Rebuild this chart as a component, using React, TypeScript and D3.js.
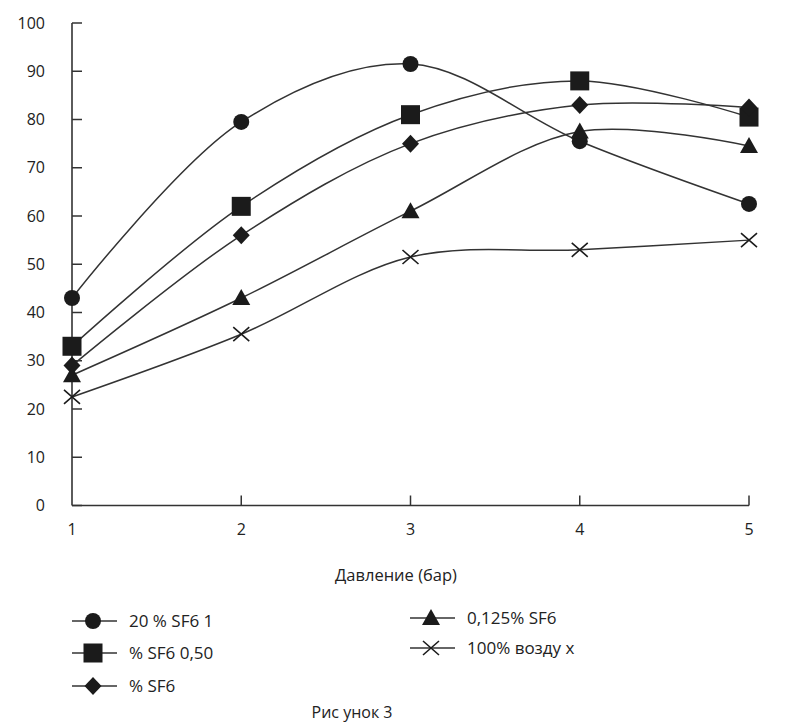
import React from "react";
import * as d3 from "d3";

const pressures = [1, 2, 3, 4, 5];
const yTicks = [0, 10, 20, 30, 40, 50, 60, 70, 80, 90, 100];
const sf6_1 = [43, 79.5, 91.5, 75.5, 62.5];
const sf6_050 = [33, 62, 81, 88, 80.5];
const sf6_025 = [29, 56, 75, 83, 82.5];
const sf6_0125 = [27, 43, 61, 77.5, 74.5];
const air = [22.5, 35.5, 51.5, 53, 55];

const seriesNames = ["20 % SF6 1", "% SF6 0,50", "% SF6", "0,125% SF6", "100% возду х"];
const seriesMarkers = ["circle", "square", "diamond", "triangle", "cross"];
const seriesValues = [sf6_1, sf6_050, sf6_025, sf6_0125, air];

const xTitle = "Давление (бар)";
const caption = "Рис унок 3";

const FONT = "'Open Sans', sans-serif";
const INK = "#1b1b1b";
const LINE = "#333";

function Marker({ type, x, y }: { type: string; x: number; y: number }) {
  if (type === "circle") return <circle cx={x} cy={y} r={8} fill={INK} />;
  if (type === "square") return <rect x={x - 9.5} y={y - 9.5} width={19} height={19} fill={INK} />;
  if (type === "diamond")
    return <path d={`M${x},${y - 9}L${x + 8.5},${y}L${x},${y + 9}L${x - 8.5},${y}Z`} fill={INK} />;
  if (type === "triangle")
    return <path d={`M${x},${y - 9}L${x + 9},${y + 7}L${x - 9},${y + 7}Z`} fill={INK} />;
  return (
    <path
      d={`M${x - 8},${y - 7}L${x + 8},${y + 7}M${x - 8},${y + 7}L${x + 8},${y - 7}`}
      stroke={INK}
      strokeWidth={1.6}
      fill="none"
    />
  );
}

export default function App() {
  const x = d3.scaleLinear().domain([1, 5]).range([72, 749]);
  const y = d3.scaleLinear().domain([0, 100]).range([505.5, 23]);
  const line = d3
    .line<number>()
    .x((_, i) => x(pressures[i]))
    .y((d) => y(d))
    .curve(d3.curveCatmullRom.alpha(0.5));

  const legendPos = [
    { lx: 72, ly: 621 },
    { lx: 72, ly: 653 },
    { lx: 72, ly: 686 },
    { lx: 410, ly: 618 },
    { lx: 410, ly: 648 },
  ];

  return (
    <svg
      width={790}
      height={724}
      style={{ position: "absolute", left: 0, top: 0, background: "#fff" }}
      fontFamily={FONT}
    >
      {/* axes */}
      <line x1={x(1)} x2={x(1)} y1={y(100)} y2={y(0)} stroke={LINE} strokeWidth={1.6} />
      <line x1={x(1)} x2={x(5)} y1={y(0)} y2={y(0)} stroke={LINE} strokeWidth={1.6} />
      {yTicks.map((t) => (
        <g key={t}>
          <line x1={x(1)} x2={x(1) + 10} y1={y(t)} y2={y(t)} stroke={LINE} strokeWidth={1.5} />
          <text x={45} y={y(t)} dy="0.35em" textAnchor="end" fontSize={16} fill="#222">
            {t}
          </text>
        </g>
      ))}
      {pressures.map((p) => (
        <g key={p}>
          {p > 1 && (
            <line x1={x(p)} x2={x(p)} y1={y(0)} y2={y(0) - 10} stroke={LINE} strokeWidth={1.5} />
          )}
          <text x={x(p)} y={529} dy="0.35em" textAnchor="middle" fontSize={16} fill="#222">
            {p}
          </text>
        </g>
      ))}
      <text x={396} y={575} dy="0.35em" textAnchor="middle" fontSize={16.5} fill="#222">
        {xTitle}
      </text>

      {/* series */}
      {seriesValues.map((vals, si) => (
        <g key={si}>
          <path d={line(vals) || ""} fill="none" stroke={LINE} strokeWidth={1.5} />
          {vals.map((v, i) => (
            <Marker key={i} type={seriesMarkers[si]} x={x(pressures[i])} y={y(v)} />
          ))}
        </g>
      ))}

      {/* legend */}
      {seriesNames.map((name, si) => {
        const { lx, ly } = legendPos[si];
        return (
          <g key={name}>
            <line x1={lx} x2={lx + 45} y1={ly} y2={ly} stroke={LINE} strokeWidth={1.5} />
            <Marker type={seriesMarkers[si]} x={lx + 21} y={ly} />
            <text x={lx + 57} y={ly} dy="0.35em" fontSize={17} fill="#222">
              {name}
            </text>
          </g>
        );
      })}

      <text x={352} y={712} dy="0.35em" textAnchor="middle" fontSize={16} fill="#222">
        {caption}
      </text>
    </svg>
  );
}
